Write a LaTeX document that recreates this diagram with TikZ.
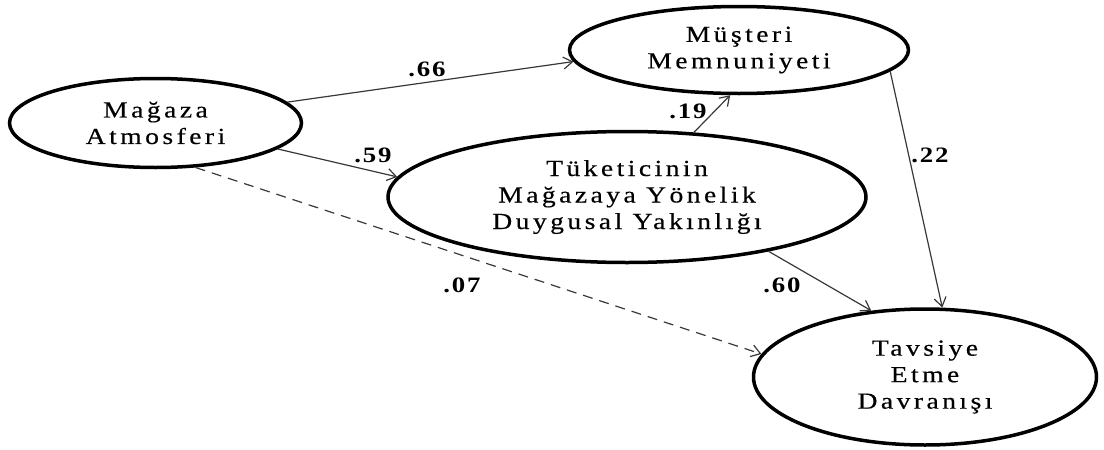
\documentclass[tikz,border=0pt]{standalone}
\usepackage{fontspec}
\setmainfont{Liberation Serif}
\newfontfamily\spacedserif[LetterSpace=15,FakeStretch=1.2,FakeBold=0.4]{Liberation Serif}
\newfontfamily\coeffont[LetterSpace=8,FakeStretch=1.22]{Liberation Serif}
\usetikzlibrary{shapes.geometric,arrows.meta}
\begin{document}
\begin{tikzpicture}[x=1pt,y=-1pt,
  construct/.style={ellipse,draw,line width=3.5pt,inner sep=0pt,align=center,
    font={\spacedserif\fontsize{23}{26.5}\selectfont}},
  path/.style={draw=black!78,line width=1.2pt,
    -{Straight Barb[length=9pt,width=12pt,line width=1.2pt]}},
  coef/.style={font={\coeffont\bfseries\fontsize{22}{22}\selectfont}},
]
\useasboundingbox (0,0) rectangle (1104,450);

% latent constructs
\node[construct,minimum width=292pt,minimum height=89pt] (ma) at (155.5,123)
  {Mağaza\\Atmosferi};
\node[construct,minimum width=339pt,minimum height=87pt] (mu) at (739,50)
  {Müşteri\\Memnuniyeti};
\node[construct,minimum width=478pt,minimum height=131pt] (ty) at (627,197)
  {Tüketicinin\\Mağazaya Yönelik\\Duygusal Yakınlığı};
\node[construct,minimum width=343pt,minimum height=136pt] (tv) at (925,377)
  {Tavsiye\\Etme\\Davranışı};

% structural paths
\draw[path] (ma.9) -- (mu.184.5);
\draw[path] (ma.-12) -- (ty.175.5);
\draw[path] (ty.44) -- (mu.259);
\draw[path] (mu.-8.5) -- (tv.76);
\draw[path] (ty.-21) -- (tv.129.5);
\draw[path,dash pattern=on 10pt off 7pt] (ma.-48.5) -- (tv.172.7);

% path coefficients
\node[coef] (c66) at (427,69) {.66};
\node[coef] (c59) at (373,155) {.59};
\node[coef] (c19) at (688,111) {.19};
\node[coef] (c22) at (930,155) {.22};
\node[coef] (c60) at (782,285) {.60};
\node[coef] (c07) at (462,285) {.07};
\end{tikzpicture}
\end{document}
